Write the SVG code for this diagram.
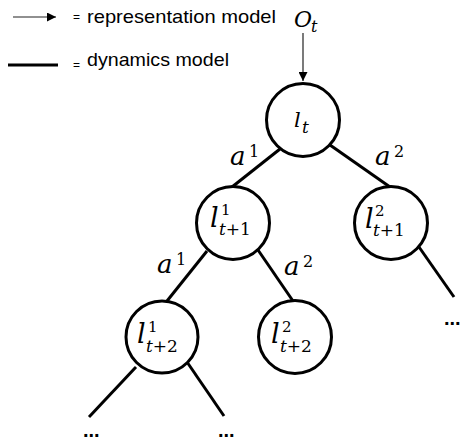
<svg xmlns="http://www.w3.org/2000/svg" width="463" height="445" viewBox="0 0 463 445">
  <style>
    .legend { font-family: "Liberation Sans", Arial, sans-serif; font-size: 19px; fill: #000; }
    .eq { font-family: "Liberation Sans", Arial, sans-serif; font-size: 12px; fill: #000; }
    .math { font-family: "DejaVu Serif", "Liberation Serif", serif; font-style: italic; fill: #000; }
    .up { font-style: normal; }
    .dots { font-family: "Liberation Sans", Arial, sans-serif; font-size: 20px; font-weight: bold; fill: #000; }
    .edge { stroke: #000; stroke-width: 3; stroke-linecap: butt; fill: none; }
    .arrow { stroke: #222; stroke-width: 1.2; fill: none; }
    .node circle { fill: #fff; stroke: #000; stroke-width: 3; }
  </style>
  <defs>
    <marker id="head" markerUnits="userSpaceOnUse" markerWidth="9" markerHeight="9" refX="9" refY="4.5" orient="auto">
      <path d="M0,0 L9,4.5 L0,9 z" fill="#000"/>
    </marker>
  </defs>

  <!-- legend -->
  <g id="legend">
    <line class="arrow" x1="13" y1="17" x2="56" y2="17" marker-end="url(#head)"/>
    <text class="eq" x="73" y="21">=</text>
    <text class="legend" x="87" y="23" textLength="189" lengthAdjust="spacingAndGlyphs">representation model</text>
    <line x1="8" y1="65" x2="58" y2="65" stroke="#000" stroke-width="3"/>
    <text class="eq" x="73" y="69">=</text>
    <text class="legend" x="87" y="66" textLength="142" lengthAdjust="spacingAndGlyphs">dynamics model</text>
  </g>

  <!-- observation input -->
  <g id="observation">
    <text class="math" x="294" y="27" font-size="22">O<tspan x="311" y="32" font-size="16">t</tspan></text>
  </g>

  <!-- connectors -->
  <g id="connectors">
    <line class="arrow" x1="303" y1="33" x2="303" y2="81" marker-end="url(#head)"/>
    <line class="edge" x1="280" y1="149" x2="232" y2="187"/>
    <line class="edge" x1="330" y1="145" x2="390" y2="187"/>
    <line class="edge" x1="207" y1="251" x2="167" y2="301"/>
    <line class="edge" x1="258" y1="250" x2="293" y2="301"/>
    <line class="edge" x1="419" y1="247" x2="454" y2="297"/>
    <line class="edge" x1="136" y1="367" x2="89" y2="417"/>
    <line class="edge" x1="187" y1="362" x2="224" y2="416"/>
  </g>

  <!-- action labels -->
  <g id="edge-labels">
    <text class="math" x="230" y="165" font-size="26">a<tspan class="up" x="249" y="157" font-size="16">1</tspan></text>
    <text class="math" x="375" y="165" font-size="26">a<tspan class="up" x="394" y="157" font-size="16">2</tspan></text>
    <text class="math" x="157" y="273" font-size="26">a<tspan class="up" x="176" y="265" font-size="16">1</tspan></text>
    <text class="math" x="284" y="275" font-size="26">a<tspan class="up" x="303" y="267" font-size="16">2</tspan></text>
  </g>

  <!-- nodes -->
  <g id="node-lt" class="node">
    <circle cx="303" cy="120" r="36.5"/>
    <text class="math" x="294" y="127" font-size="21">l<tspan x="302" y="133" font-size="17">t</tspan></text>
  </g>
  <g id="node-l1-t1" class="node">
    <circle cx="233" cy="223" r="36.5"/>
    <text class="math" x="210" y="227" font-size="27">l<tspan class="up" x="221" y="215" font-size="15">1</tspan><tspan x="219" y="235" font-size="17">t</tspan><tspan class="up" font-size="17">+1</tspan></text>
  </g>
  <g id="node-l2-t1" class="node">
    <circle cx="391" cy="223" r="36.5"/>
    <text class="math" x="365" y="228" font-size="27">l<tspan class="up" x="375" y="216" font-size="15">2</tspan><tspan x="373" y="236" font-size="17">t</tspan><tspan class="up" font-size="17">+1</tspan></text>
  </g>
  <g id="node-l1-t2" class="node">
    <circle cx="162" cy="337" r="36"/>
    <text class="math" x="137" y="343" font-size="27">l<tspan class="up" x="148" y="332" font-size="15">1</tspan><tspan x="146" y="352" font-size="17">t</tspan><tspan class="up" font-size="17">+2</tspan></text>
  </g>
  <g id="node-l2-t2" class="node">
    <circle cx="295" cy="337" r="36.5"/>
    <text class="math" x="271" y="343" font-size="27">l<tspan class="up" x="282" y="332" font-size="15">2</tspan><tspan x="280" y="352" font-size="17">t</tspan><tspan class="up" font-size="17">+2</tspan></text>
  </g>

  <!-- continuation marks -->
  <g id="continuations">
    <text class="dots" x="83" y="437">...</text>
    <text class="dots" x="218" y="437">...</text>
    <text class="dots" x="444" y="325">...</text>
  </g>
</svg>
